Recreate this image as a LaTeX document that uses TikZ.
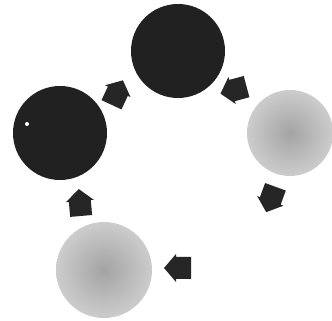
\documentclass[tikz,border=0pt]{standalone}
\begin{document}
\begin{tikzpicture}[x=1pt,y=1pt,
  darkdisc/.style={circle, inner sep=0pt, fill=black!87},
  lightdisc/.style={circle, inner sep=0pt, shading=radial, inner color=black!36, outer color=black!20},
  blkarrow/.pic={\fill[black!85] (-13,-11) -- (2,-11) -- (2,-14) -- (14,0) -- (2,14) -- (2,11) -- (-13,11) -- cycle;}]
\useasboundingbox (0,0) rectangle (332,321);
\fill[white] (0,0) rectangle (332,321);
% discs
\node[darkdisc, minimum size=94pt] (top) at (178,270) {};
\node[darkdisc, minimum size=94pt] (left) at (60,188) {};
\node[lightdisc, minimum size=86pt] (right) at (290,188) {};
\node[lightdisc, minimum size=96pt] (bottom) at (104,51) {};
\node[circle, fill=white, inner sep=0pt, minimum size=4pt] (dot) at (27,197) {};
% arrows
\coordinate (a1) at (117,228);
\coordinate (a2) at (234,231);
\coordinate (a3) at (271,122);
\coordinate (a4) at (178,53);
\coordinate (a5) at (80,118);
\pic[rotate=65] at (a1) {blkarrow};
\pic[rotate=195] at (a2) {blkarrow};
\pic[rotate=250] at (a3) {blkarrow};
\pic[rotate=180] at (a4) {blkarrow};
\pic[rotate=95] at (a5) {blkarrow};
\end{tikzpicture}
\end{document}
